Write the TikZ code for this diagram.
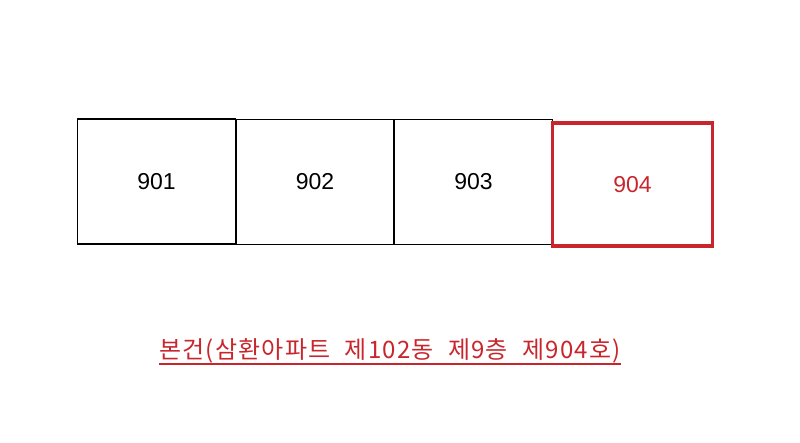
\documentclass[tikz,border=0pt]{standalone}
\usepackage{fontspec}
\setmainfont{Liberation Sans}
\newfontfamily\kofont[LetterSpace=5]{Noto Sans CJK KR}
\usepackage{tikz}
\definecolor{unitred}{RGB}{200,38,44}
\tikzset{
  unitbox/.style={draw=black,line width=1.4pt,minimum width=158pt,minimum height=125pt,inner sep=0pt,font=\fontsize{23}{23}\selectfont},
  ownbox/.style={unitbox,draw=unitred,text=unitred,line width=3.6pt,minimum width=160pt,minimum height=123pt}
}
\begin{document}
\begin{tikzpicture}[x=1pt,y=-1pt]
\useasboundingbox (0,0) rectangle (800,442);
\node[unitbox] (u901) at (156.5,181.5) {901};
\node[unitbox] (u902) at (315,182) {902};
\node[unitbox] (u903) at (473.5,182) {903};
\node[ownbox] (u904) at (632.5,184.5) {904};
\node[anchor=base,inner sep=0pt,text=unitred,font=\kofont\fontsize{24}{24}\selectfont] (caption) at (390,358) {본건(삼환아파트\hspace{0.6em}제102동\hspace{0.6em}제9층\hspace{0.6em}제904호)};
\draw[unitred,line width=1.3pt] ([yshift=-6pt]caption.base west) -- ([yshift=-6pt]caption.base east);
\end{tikzpicture}
\end{document}
